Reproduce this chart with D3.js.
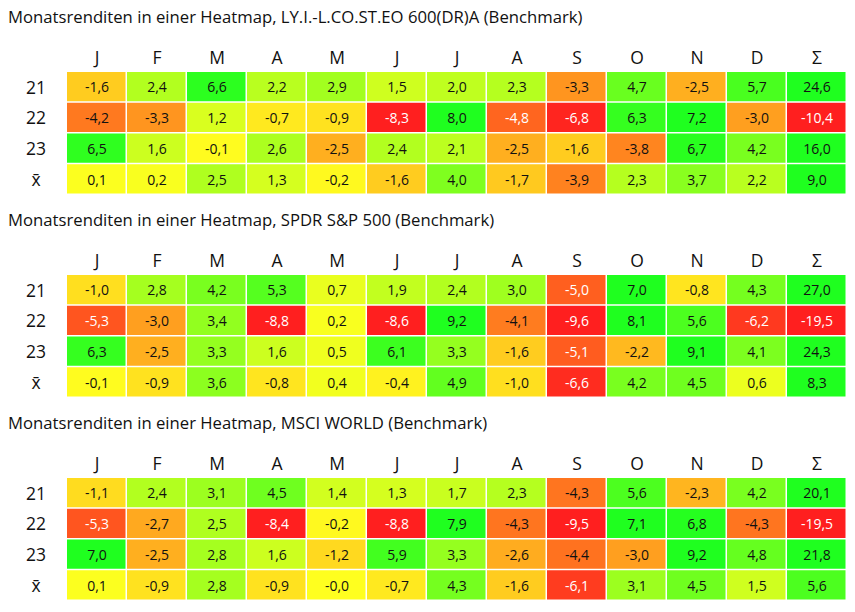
<!DOCTYPE html>
<html>
<head>
<meta charset="utf-8">
<script src="https://cdn.jsdelivr.net/npm/d3@7"></script>
<style>
  body { margin: 0; background: #fff; }
  text { font-family: "Open Sans", "Noto Sans", sans-serif; fill: #111; }
</style>
</head>
<body>
<div id="chart"></div>
<script>
var svgWidth = 855;
var svgHeight = 612;

// column headers: months plus the yearly sum
var months = ["J", "F", "M", "A", "M", "J", "J", "A", "S", "O", "N", "D", "Σ"];
var rowLabels = ["21", "22", "23", "x̄"];

var titles = [
  "Monatsrenditen in einer Heatmap, LY.I.-L.CO.ST.EO 600(DR)A (Benchmark)",
  "Monatsrenditen in einer Heatmap, SPDR S&P 500 (Benchmark)",
  "Monatsrenditen in einer Heatmap, MSCI WORLD (Benchmark)"
];

var lyxorValues = [
  [-1.6, 2.4, 6.6, 2.2, 2.9, 1.5, 2.0, 2.3, -3.3, 4.7, -2.5, 5.7, 24.6],
  [-4.2, -3.3, 1.2, -0.7, -0.9, -8.3, 8.0, -4.8, -6.8, 6.3, 7.2, -3.0, -10.4],
  [6.5, 1.6, -0.1, 2.6, -2.5, 2.4, 2.1, -2.5, -1.6, -3.8, 6.7, 4.2, 16.0],
  [0.1, 0.2, 2.5, 1.3, -0.2, -1.6, 4.0, -1.7, -3.9, 2.3, 3.7, 2.2, 9.0]
];

var spdrValues = [
  [-1.0, 2.8, 4.2, 5.3, 0.7, 1.9, 2.4, 3.0, -5.0, 7.0, -0.8, 4.3, 27.0],
  [-5.3, -3.0, 3.4, -8.8, 0.2, -8.6, 9.2, -4.1, -9.6, 8.1, 5.6, -6.2, -19.5],
  [6.3, -2.5, 3.3, 1.6, 0.5, 6.1, 3.3, -1.6, -5.1, -2.2, 9.1, 4.1, 24.3],
  [-0.1, -0.9, 3.6, -0.8, 0.4, -0.4, 4.9, -1.0, -6.6, 4.2, 4.5, 0.6, 8.3]
];

var msciValues = [
  [-1.1, 2.4, 3.1, 4.5, 1.4, 1.3, 1.7, 2.3, -4.3, 5.6, -2.3, 4.2, 20.1],
  [-5.3, -2.7, 2.5, -8.4, -0.2, -8.8, 7.9, -4.3, -9.5, 7.1, 6.8, -4.3, -19.5],
  [7.0, -2.5, 2.8, 1.6, -1.2, 5.9, 3.3, -2.6, -4.4, -3.0, 9.2, 4.8, 21.8],
  [0.1, -0.9, 2.8, -0.9, -0.0, -0.7, 4.3, -1.6, -6.1, 3.1, 4.5, 1.5, 5.6]
];

var tables = [lyxorValues, spdrValues, msciValues];

var svg = d3.select("#chart")
  .append("svg")
  .attr("width", svgWidth)
  .attr("height", svgHeight);

// red -> yellow -> green, clamped
var color = d3.scaleLinear()
  .domain([-7, 0, 7])
  .range(["#ff1f1f", "#ffff1f", "#1fff1f"])
  .clamp(true);

var x = d3.scaleBand()
  .domain(d3.range(months.length))
  .range([67, 847]);

function fmt(v) {
  var neg = v < 0 || Object.is(v, -0);
  return (neg ? "-" : "") + Math.abs(v).toFixed(1).replace(".", ",");
}

tables.forEach(function(values, t) {
  var top = 72 + t * 203;

  var y = d3.scaleBand()
    .domain(d3.range(rowLabels.length))
    .range([top, top + 123]);

  var g = svg.append("g");

  g.append("text")
    .attr("x", 8)
    .attr("y", top - 55)
    .attr("dy", "0.35em")
    .attr("font-size", "16.7px")
    .text(titles[t]);

  // month headers
  g.selectAll(".head")
    .data(months)
    .enter()
    .append("text")
    .attr("x", (d, i) => x(i) + x.bandwidth() / 2)
    .attr("y", top - 14)
    .attr("dy", "0.35em")
    .attr("text-anchor", "middle")
    .attr("font-size", "17.5px")
    .text(d => d);

  // year labels
  g.selectAll(".rowlab")
    .data(rowLabels)
    .enter()
    .append("text")
    .attr("x", 36)
    .attr("y", (d, i) => y(i) + y.bandwidth() / 2)
    .attr("dy", "0.35em")
    .attr("text-anchor", "middle")
    .attr("font-size", "17.5px")
    .text(d => d);

  var cells = [];
  values.forEach(function(row, r) {
    row.forEach(function(v, c) {
      cells.push({ r: r, c: c, v: v });
    });
  });

  g.selectAll("rect")
    .data(cells)
    .enter()
    .append("rect")
    .attr("x", d => x(d.c))
    .attr("y", d => y(d.r))
    .attr("width", x.bandwidth() - 1.5)
    .attr("height", y.bandwidth() - 1.5)
    .attr("fill", d => color(d.v));

  g.selectAll(".val")
    .data(cells)
    .enter()
    .append("text")
    .attr("x", d => x(d.c) + x.bandwidth() / 2)
    .attr("y", d => y(d.r) + y.bandwidth() / 2)
    .attr("dy", "0.35em")
    .attr("text-anchor", "middle")
    .attr("font-size", "14px")
    .style("fill", d => d.v < -4.5 ? "#fff" : "#111")
    .text(d => fmt(d.v));
});
</script>
</body>
</html>
